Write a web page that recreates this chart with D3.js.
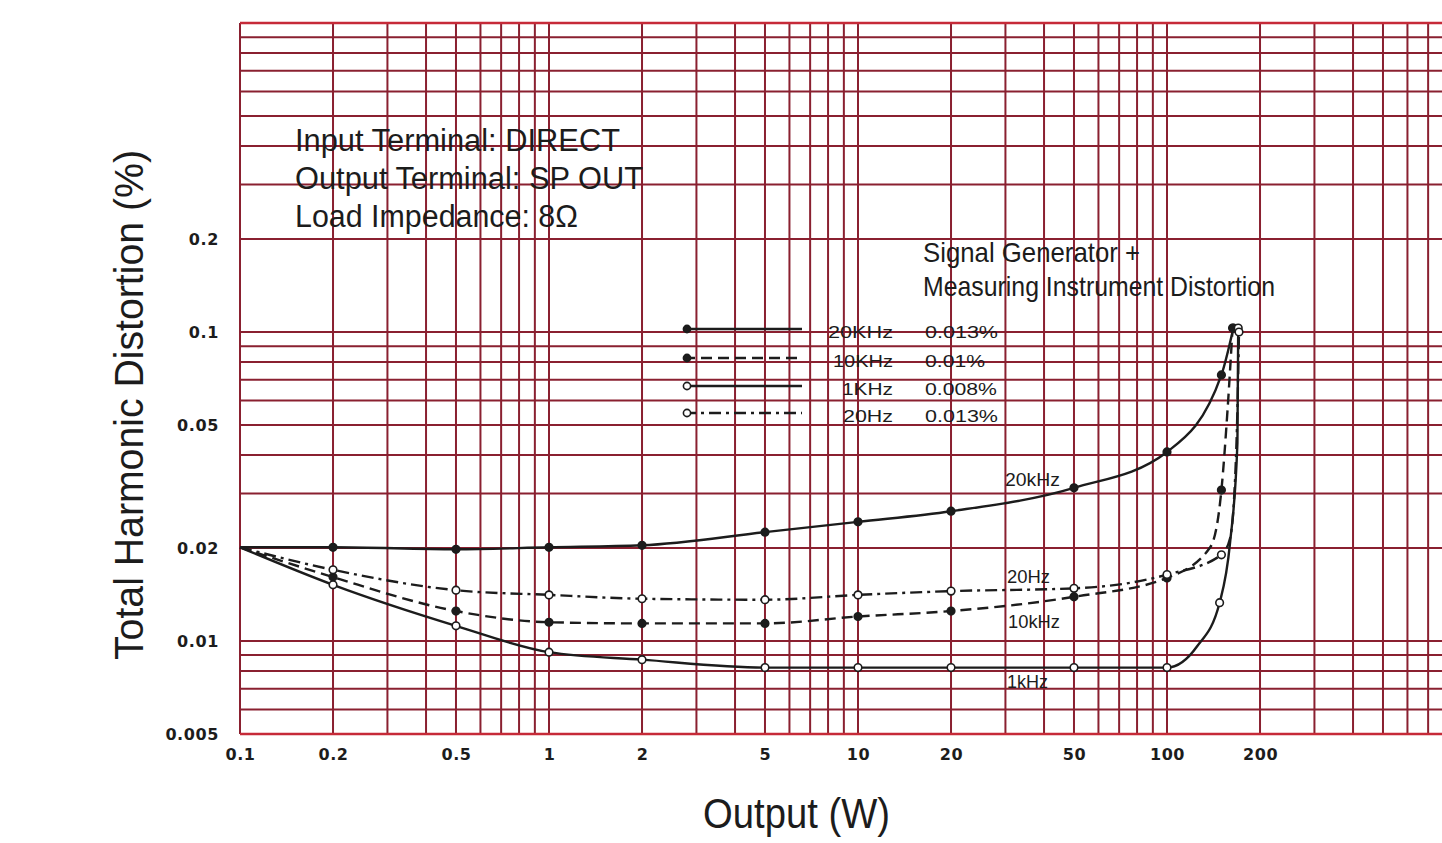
<!DOCTYPE html>
<html>
<head>
<meta charset="utf-8">
<script src="https://cdn.jsdelivr.net/npm/d3@7"></script>
<style>
  html, body { margin: 0; padding: 0; background: #fff; }
  svg { display: block; }
</style>
</head>
<body>
<div class="chart"></div>
<script>
// tick labels
const xTicks = [0.1, 0.2, 0.5, 1, 2, 5, 10, 20, 50, 100, 200];
const yTicks = [0.005, 0.01, 0.02, 0.05, 0.1, 0.2];

// 20kHz
const power20k = [0.1, 0.2, 0.5, 1, 2, 5, 10, 20, 50, 100, 150, 164];
const thd20k = [0.0201, 0.0201, 0.0198, 0.0201, 0.0204, 0.0225, 0.0243, 0.0263, 0.0313, 0.0409, 0.0726, 0.103];
const marks20k = [0.2, 0.5, 1, 2, 5, 10, 20, 50, 100, 150, 164];

// 10kHz
const power10k = [0.1, 0.2, 0.5, 1, 2, 5, 10, 20, 50, 100, 138, 150, 157, 163];
const thd10k = [0.0201, 0.0161, 0.0125, 0.0115, 0.0114, 0.0114, 0.0120, 0.0125, 0.0139, 0.0160, 0.0201, 0.0308, 0.0559, 0.103];
const marks10k = [0.2, 0.5, 1, 2, 5, 10, 20, 50, 100, 150, 163];

// 1kHz
const power1k = [0.1, 0.2, 0.5, 1, 2, 5, 10, 20, 50, 100, 125, 148, 160, 169, 170];
const thd1k = [0.0201, 0.0152, 0.0112, 0.0092, 0.0087, 0.0082, 0.0082, 0.0082, 0.0082, 0.0082, 0.0096, 0.0133, 0.0208, 0.0437, 0.103];
const marks1k = [0.2, 0.5, 1, 2, 5, 10, 20, 50, 100, 148, 170];

// 20Hz
const power20 = [0.1, 0.2, 0.5, 1, 2, 5, 10, 20, 50, 100, 150, 160, 168, 171];
const thd20 = [0.0201, 0.0170, 0.0146, 0.0141, 0.0137, 0.0136, 0.0141, 0.0145, 0.0148, 0.0164, 0.0190, 0.0215, 0.045, 0.1];
const marks20 = [0.2, 0.5, 1, 2, 5, 10, 20, 50, 100, 150, 171];

const legendLabels = ["20KHz", "10KHz", "1KHz", "20Hz"];
const legendValues = ["0.013%", "0.01%", "0.008%", "0.013%"];
const curveLabels = ["20kHz", "10kHz", "1kHz", "20Hz"];

const width = 1442, height = 843;
const ink = "#1c1c1c";
const gridColor = "#8a2030";

const x = d3.scaleLog().domain([0.1, 1000]).range([240, 1476]);
const y = d3.scaleLog().domain([0.005, 1]).range([734, 23]);

const svg = d3.select(".chart").append("svg")
    .attr("width", width)
    .attr("height", height);

// log paper grid
const grid = svg.append("g").attr("stroke", gridColor).attr("stroke-width", 2);
grid.selectAll("line.h")
    .data(y.ticks())
    .join("line")
    .attr("class", "h")
    .attr("x1", x(0.1)).attr("x2", width)
    .attr("y1", d => y(d)).attr("y2", d => y(d));
grid.selectAll("line.v")
    .data(x.ticks())
    .join("line")
    .attr("class", "v")
    .attr("x1", d => x(d)).attr("x2", d => x(d))
    .attr("y1", y(1)).attr("y2", y(0.005));
// red borders top and bottom
svg.append("g").attr("stroke", "#c62a38").attr("stroke-width", 2.4)
    .selectAll("line")
    .data([1, 0.005])
    .join("line")
    .attr("x1", x(0.1)).attr("x2", width)
    .attr("y1", d => y(d)).attr("y2", d => y(d));

// axes (labels only)
const fmt = d => String(d);
svg.append("g")
    .attr("transform", `translate(${x(0.1) - 18},0)`)
    .call(d3.axisLeft(y).tickValues(yTicks).tickFormat(fmt).tickSize(0))
    .call(g => g.select(".domain").remove())
    .call(g => g.selectAll(".tick text")
        .attr("fill", ink)
        .attr("letter-spacing", "0.6")
        .style("font", "bold 16px 'DejaVu Sans'"));

svg.append("g")
    .attr("transform", `translate(0,${y(0.005) + 12})`)
    .call(d3.axisBottom(x).tickValues(xTicks).tickFormat(fmt).tickSize(0))
    .call(g => g.select(".domain").remove())
    .call(g => g.selectAll(".tick text")
        .attr("fill", ink)
        .attr("letter-spacing", "0.6")
        .style("font", "bold 16px 'DejaVu Sans'"));

// series
const series = [
    {power: power20k, thd: thd20k, marks: marks20k, dash: null, filled: true},
    {power: power10k, thd: thd10k, marks: marks10k, dash: "11,6", filled: true},
    {power: power1k, thd: thd1k, marks: marks1k, dash: null, filled: false},
    {power: power20, thd: thd20, marks: marks20, dash: "12,5,3,5", filled: false},
];

const line = d3.line()
    .x(d => x(d[0]))
    .y(d => y(d[1]))
    .curve(d3.curveMonotoneX);

const curves = svg.append("g");
series.forEach(s => {
    const pts = s.power.map((p, i) => [p, s.thd[i]]);
    curves.append("path")
        .attr("d", line(pts))
        .attr("fill", "none")
        .attr("stroke", ink)
        .attr("stroke-width", 2.4)
        .attr("stroke-dasharray", s.dash);
    curves.append("g")
        .selectAll("circle")
        .data(pts.filter(d => s.marks.includes(d[0])))
        .join("circle")
        .attr("cx", d => x(d[0]))
        .attr("cy", d => y(d[1]))
        .attr("r", 3.8)
        .attr("fill", s.filled ? ink : "#fff")
        .attr("stroke", ink)
        .attr("stroke-width", 1.6);
});

// legend
const legY = [329, 358, 386, 413];
const legLen = [65, 60, 51, 50];
const valLen = [73, 60, 72, 73];
const legend = svg.append("g");
series.forEach((s, i) => {
    const g = legend.append("g").attr("transform", `translate(0,${legY[i]})`);
    g.append("line")
        .attr("x1", 684).attr("x2", 802)
        .attr("stroke", ink).attr("stroke-width", 2.4)
        .attr("stroke-dasharray", s.dash);
    g.append("circle")
        .attr("cx", 687).attr("r", 3.6)
        .attr("fill", s.filled ? ink : "#fff")
        .attr("stroke", ink).attr("stroke-width", 1.6);
    g.append("text")
        .attr("x", 893).attr("y", 9)
        .attr("text-anchor", "end")
        .attr("textLength", legLen[i]).attr("lengthAdjust", "spacingAndGlyphs")
        .attr("fill", ink)
        .style("font", "17px 'Liberation Sans'")
        .text(legendLabels[i]);
    g.append("text")
        .attr("x", 925).attr("y", 9)
        .attr("textLength", valLen[i]).attr("lengthAdjust", "spacingAndGlyphs")
        .attr("fill", ink)
        .style("font", "17px 'Liberation Sans'")
        .text(legendValues[i]);
});

// curve labels
const clX = [1005, 1008, 1007, 1007];
const clY = [486, 628, 688, 583];
const clLen = [55, 52, 41, 43];
svg.append("g")
    .selectAll("text")
    .data(curveLabels)
    .join("text")
    .attr("x", (d, i) => clX[i])
    .attr("y", (d, i) => clY[i])
    .attr("textLength", (d, i) => clLen[i])
    .attr("lengthAdjust", "spacingAndGlyphs")
    .attr("fill", ink)
    .style("font", "18px 'Liberation Sans'")
    .text(d => d);

// notes
const notes = ["Input Terminal: DIRECT", "Output Terminal: SP OUT", "Load Impedance: 8Ω"];
const noteLen = [325, 348, 283];
svg.append("g")
    .selectAll("text")
    .data(notes)
    .join("text")
    .attr("x", 295)
    .attr("y", (d, i) => 151 + i * 38)
    .attr("textLength", (d, i) => noteLen[i])
    .attr("lengthAdjust", "spacingAndGlyphs")
    .attr("fill", ink)
    .style("font", "31px 'Liberation Sans'")
    .text(d => d);

const sigNotes = ["Signal Generator  +", "Measuring Instrument Distortion"];
const sigLen = [217, 352];
svg.append("g")
    .selectAll("text")
    .data(sigNotes)
    .join("text")
    .attr("x", 923)
    .attr("y", (d, i) => 262 + i * 34)
    .attr("textLength", (d, i) => sigLen[i])
    .attr("lengthAdjust", "spacingAndGlyphs")
    .attr("fill", ink)
    .style("font", "28px 'Liberation Sans'")
    .text(d => d);

// axis titles
svg.append("text")
    .attr("transform", "translate(143,405) rotate(-90)")
    .attr("text-anchor", "middle")
    .attr("textLength", 510).attr("lengthAdjust", "spacingAndGlyphs")
    .attr("fill", ink)
    .style("font", "40px 'Liberation Sans'")
    .text("Total Harmonic Distortion (%)");

svg.append("text")
    .attr("x", 703).attr("y", 828)
    .attr("textLength", 187).attr("lengthAdjust", "spacingAndGlyphs")
    .attr("fill", ink)
    .style("font", "42px 'Liberation Sans'")
    .text("Output (W)");
</script>
</body>
</html>
